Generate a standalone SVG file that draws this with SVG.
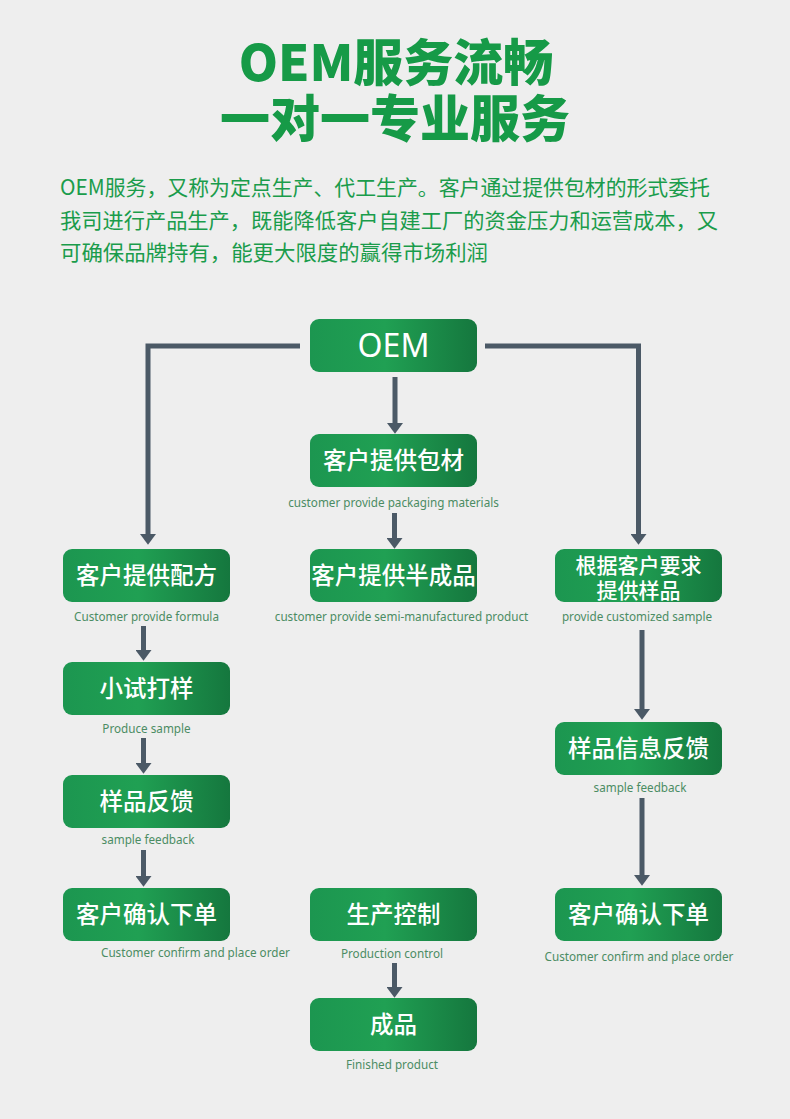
<svg xmlns="http://www.w3.org/2000/svg" width="790" height="1119" viewBox="0 0 790 1119">
<defs>
<linearGradient id="g" x1="0" y1="0" x2="1" y2="0">
<stop offset="0" stop-color="#1c9650"/>
<stop offset="0.45" stop-color="#20a053"/>
<stop offset="1" stop-color="#15773e"/>
</linearGradient>
<marker id="ah" markerUnits="userSpaceOnUse" markerWidth="12" markerHeight="16" refX="0" refY="7" orient="auto" viewBox="0 0 10 14">
<path d="M0,0 L9.5,7 L0,14 z" fill="#4b5966"/>
</marker>
</defs>
<style>
.t{font-family:"Noto Sans CJK SC","Noto Sans",sans-serif;font-weight:900;font-size:50px;fill:#169a47;text-anchor:middle}
.p{font-family:"Noto Sans CJK SC","Noto Sans",sans-serif;font-size:21px;fill:#1a9c4b}
.box{fill:url(#g)}
.n{font-family:"Noto Sans CJK SC","Noto Sans",sans-serif;font-size:23.5px;font-weight:500;fill:#ffffff;text-anchor:middle}
.c{font-family:"Noto Sans","Noto Sans CJK SC",sans-serif;font-size:11.7px;fill:#4b8c63;text-anchor:middle}
.ln{fill:none;stroke:#4b5966;stroke-width:5;stroke-linejoin:miter}
.ar{marker-end:url(#ah)}
</style>
<rect x="0" y="0" width="790" height="1119" fill="#eeeeee"/>
<g id="title">
<text class="t" x="396" y="81">OEM服务流畅</text>
<text class="t" x="395" y="137">一对一专业服务</text>
</g>
<g id="intro">
<text class="p" x="60" y="195" textLength="650" lengthAdjust="spacingAndGlyphs">OEM服务，又称为定点生产、代工生产。客户通过提供包材的形式委托</text>
<text class="p" x="60" y="228" textLength="658" lengthAdjust="spacingAndGlyphs">我司进行产品生产，既能降低客户自建工厂的资金压力和运营成本，又</text>
<text class="p" x="60" y="260" textLength="428" lengthAdjust="spacingAndGlyphs">可确保品牌持有，能更大限度的赢得市场利润</text>
</g>
<g id="connectors">
<path class="ln ar" d="M300,346 H148 V534"/>
<path class="ln ar" d="M485,346 H638.5 V534"/>
<path class="ln ar" d="M395,377 V423"/>
<path class="ln ar" d="M394.5,513 V538"/>
<path class="ln ar" d="M143.5,626 V650"/>
<path class="ln ar" d="M143.5,738 V763"/>
<path class="ln ar" d="M143.5,850 V876"/>
<path class="ln ar" d="M642,630 V709"/>
<path class="ln ar" d="M642,798 V875"/>
<path class="ln ar" d="M394.5,963 V987"/>
</g>
<g id="n-oem">
<rect class="box" x="310" y="319" width="167" height="53" rx="9"/>
<text class="n" x="393.5" y="357" style="font-size:32px;font-weight:400;font-family:'Noto Sans',sans-serif">OEM</text>
</g>
<g id="n-pack">
<rect class="box" x="310" y="434" width="167" height="53" rx="9"/>
<text class="n" x="393.5" y="469">客户提供包材</text>
<text class="c" x="393.5" y="507">customer provide packaging materials</text>
</g>
<g id="n-formula">
<rect class="box" x="63" y="549" width="167" height="53" rx="9"/>
<text class="n" x="146.5" y="584">客户提供配方</text>
<text class="c" x="146.5" y="621">Customer provide formula</text>
</g>
<g id="n-semi">
<rect class="box" x="310" y="549" width="167" height="53" rx="9"/>
<text class="n" x="393.5" y="584">客户提供半成品</text>
<text class="c" x="401.5" y="621">customer provide semi-manufactured product</text>
</g>
<g id="n-custom">
<rect class="box" x="555" y="549" width="167" height="53" rx="9"/>
<text class="n" x="638.5" y="572.5" style="font-size:21px">根据客户要求</text>
<text class="n" x="638.5" y="597.5" style="font-size:21px">提供样品</text>
<text class="c" x="637" y="621">provide customized sample</text>
</g>
<g id="n-trial">
<rect class="box" x="63" y="662" width="167" height="53" rx="9"/>
<text class="n" x="146.5" y="697">小试打样</text>
<text class="c" x="146.5" y="733">Produce sample</text>
</g>
<g id="n-info">
<rect class="box" x="555" y="722" width="167" height="53" rx="9"/>
<text class="n" x="638.5" y="757">样品信息反馈</text>
<text class="c" x="640" y="792">sample feedback</text>
</g>
<g id="n-feedback">
<rect class="box" x="63" y="775" width="167" height="53" rx="9"/>
<text class="n" x="146.5" y="810">样品反馈</text>
<text class="c" x="148" y="844">sample feedback</text>
</g>
<g id="n-order-left">
<rect class="box" x="63" y="888" width="167" height="53" rx="9"/>
<text class="n" x="146.5" y="923">客户确认下单</text>
<text class="c" x="101" y="957" style="text-anchor:start">Customer confirm and place order</text>
</g>
<g id="n-control">
<rect class="box" x="310" y="888" width="167" height="53" rx="9"/>
<text class="n" x="393.5" y="923">生产控制</text>
<text class="c" x="392" y="958">Production control</text>
</g>
<g id="n-order-right">
<rect class="box" x="555" y="888" width="167" height="53" rx="9"/>
<text class="n" x="638.5" y="923">客户确认下单</text>
<text class="c" x="639" y="961">Customer confirm and place order</text>
</g>
<g id="n-finished">
<rect class="box" x="310" y="998" width="167" height="53" rx="9"/>
<text class="n" x="393.5" y="1033">成品</text>
<text class="c" x="392" y="1069">Finished product</text>
</g>
</svg>
